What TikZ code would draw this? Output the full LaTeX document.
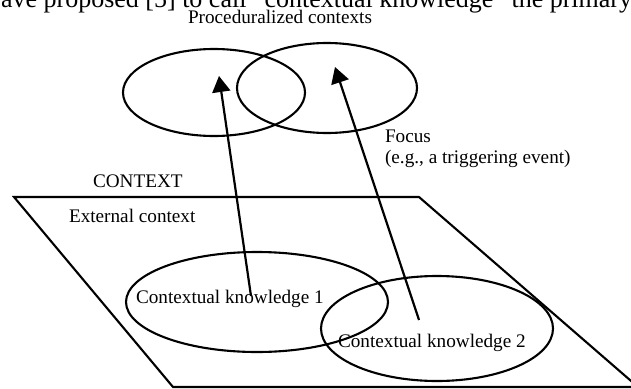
\documentclass[tikz,border=0pt]{standalone}
\usepackage{fontspec}
\setmainfont{Liberation Serif}
\usetikzlibrary{arrows.meta}
\newcommand{\lblfont}{\fontsize{19.2}{23}\selectfont}
\tikzset{
  lbl/.style={anchor=base west,inner sep=0pt,font=\lblfont},
  pointer/.style={line width=2.2pt,-{Triangle[length=16pt,width=18pt]}}
}
\begin{document}
\begin{tikzpicture}[x=1pt,y=-1pt,line width=2.1pt]
	\useasboundingbox (0,0) rectangle (631,388);

	% running text of the page above the figure
	\node[anchor=base west,inner sep=0pt,font=\fontsize{26}{30}\selectfont] (runtext) at (0,8) {ave proposed [5] to call “contextual knowledge” the primary.};

	% context plane
	\draw (14,197) -- (419,197) -- (638,387) -- (173,387) -- cycle;

	% proceduralized contexts
	\draw (214,92.5) ellipse (91 and 43.5);
	\draw (327,88) ellipse (90 and 45);

	% contextual knowledge
	\draw (257,302) ellipse (131 and 50);
	\draw (437,328.5) ellipse (116 and 52.5);

	\node[lbl] (proc) at (187,23) {Proceduralized contexts};
	\node[lbl] (focus) at (384,142) {Focus};
	\node[lbl] (event) at (384,163) {(e.g., a triggering event)};
	\node[lbl] (context) at (92,187) {CONTEXT};
	\node[lbl] (external) at (68,222) {External context};
	\node[lbl] (ck1) at (135,303) {Contextual knowledge 1};
	\node[lbl] (ck2) at (337,347) {Contextual knowledge 2};

	\coordinate (from1) at (251,296);
	\coordinate (to1) at (219,76);
	\coordinate (from2) at (419,320);
	\coordinate (to2) at (335,67);
	\draw[pointer] (from1) -- (to1);
	\draw[pointer] (from2) -- (to2);
	\end{tikzpicture}
\end{document}
